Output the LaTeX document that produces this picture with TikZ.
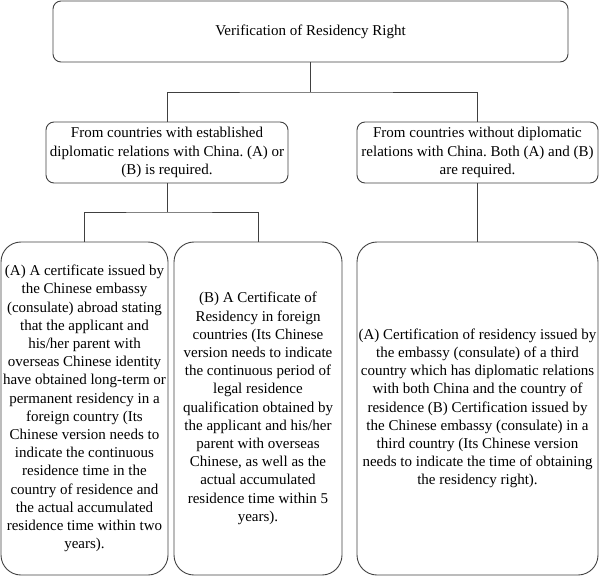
\documentclass[tikz,border=0pt]{standalone}
\usepackage{fontspec}
\setmainfont{Liberation Serif}
\frenchspacing
\begin{document}
\begin{tikzpicture}[x=1pt,y=-1pt,
  every node/.style={font=\fontsize{15}{18.2}\selectfont, text=black},
  box/.style={draw=black!75, line width=0.9pt, align=center, inner sep=0pt},
  small/.style={box, rounded corners=8pt, minimum height=61pt},
  big/.style={box, rounded corners=20pt, minimum height=333pt},
  link/.style={draw=black!75, line width=0.9pt}]
\useasboundingbox (0,0) rectangle (599,577);
\node[small, minimum width=515pt] (top) at (310.5,31.5) {Verification of Residency Right};
\node[small, minimum width=242pt] (L1) at (167,152.5) {From countries with established\\diplomatic relations with China. (A) or\\(B) is required.};
\node[small, minimum width=241pt] (R1) at (477.5,152.5) {From countries without diplomatic\\relations with China. Both (A) and (B)\\are required.};
\node[big, minimum width=167pt] (A) at (84.5,408.5) {(A) A certificate issued by\\the Chinese embassy\\(consulate) abroad stating\\that the applicant and\\his/her parent with\\overseas Chinese identity\\have obtained long-term or\\permanent residency in a\\foreign country (Its\\Chinese version needs to\\indicate the continuous\\residence time in the\\country of residence and\\the actual accumulated\\residence time within two\\years).};
\node[big, minimum width=168pt] (B) at (258,408.5) {(B) A Certificate of\\Residency in foreign\\countries (Its Chinese\\version needs to indicate\\the continuous period of\\legal residence\\qualification obtained by\\the applicant and his/her\\parent with overseas\\Chinese, as well as the\\actual accumulated\\residence time within 5\\years).};
\node[big, minimum width=241pt] (C) at (477.5,408.5) {(A) Certification of residency issued by\\the embassy (consulate) of a third\\country which has diplomatic relations\\with both China and the country of\\residence (B) Certification issued by\\the Chinese embassy (consulate) in a\\third country (Its Chinese version\\needs to indicate the time of obtaining\\the residency right).};
\coordinate (j1) at (310.5,92);
\coordinate (j2) at (167,212);
\draw[link] (top.south) -- (j1);
\draw[link] (L1.north) |- (j1) -| (R1.north);
\draw[link] (L1.south) -- (j2);
\draw[link] (A.north) |- (j2) -| (B.north);
\draw[link] (R1.south) -- (C.north);
\end{tikzpicture}
\end{document}
